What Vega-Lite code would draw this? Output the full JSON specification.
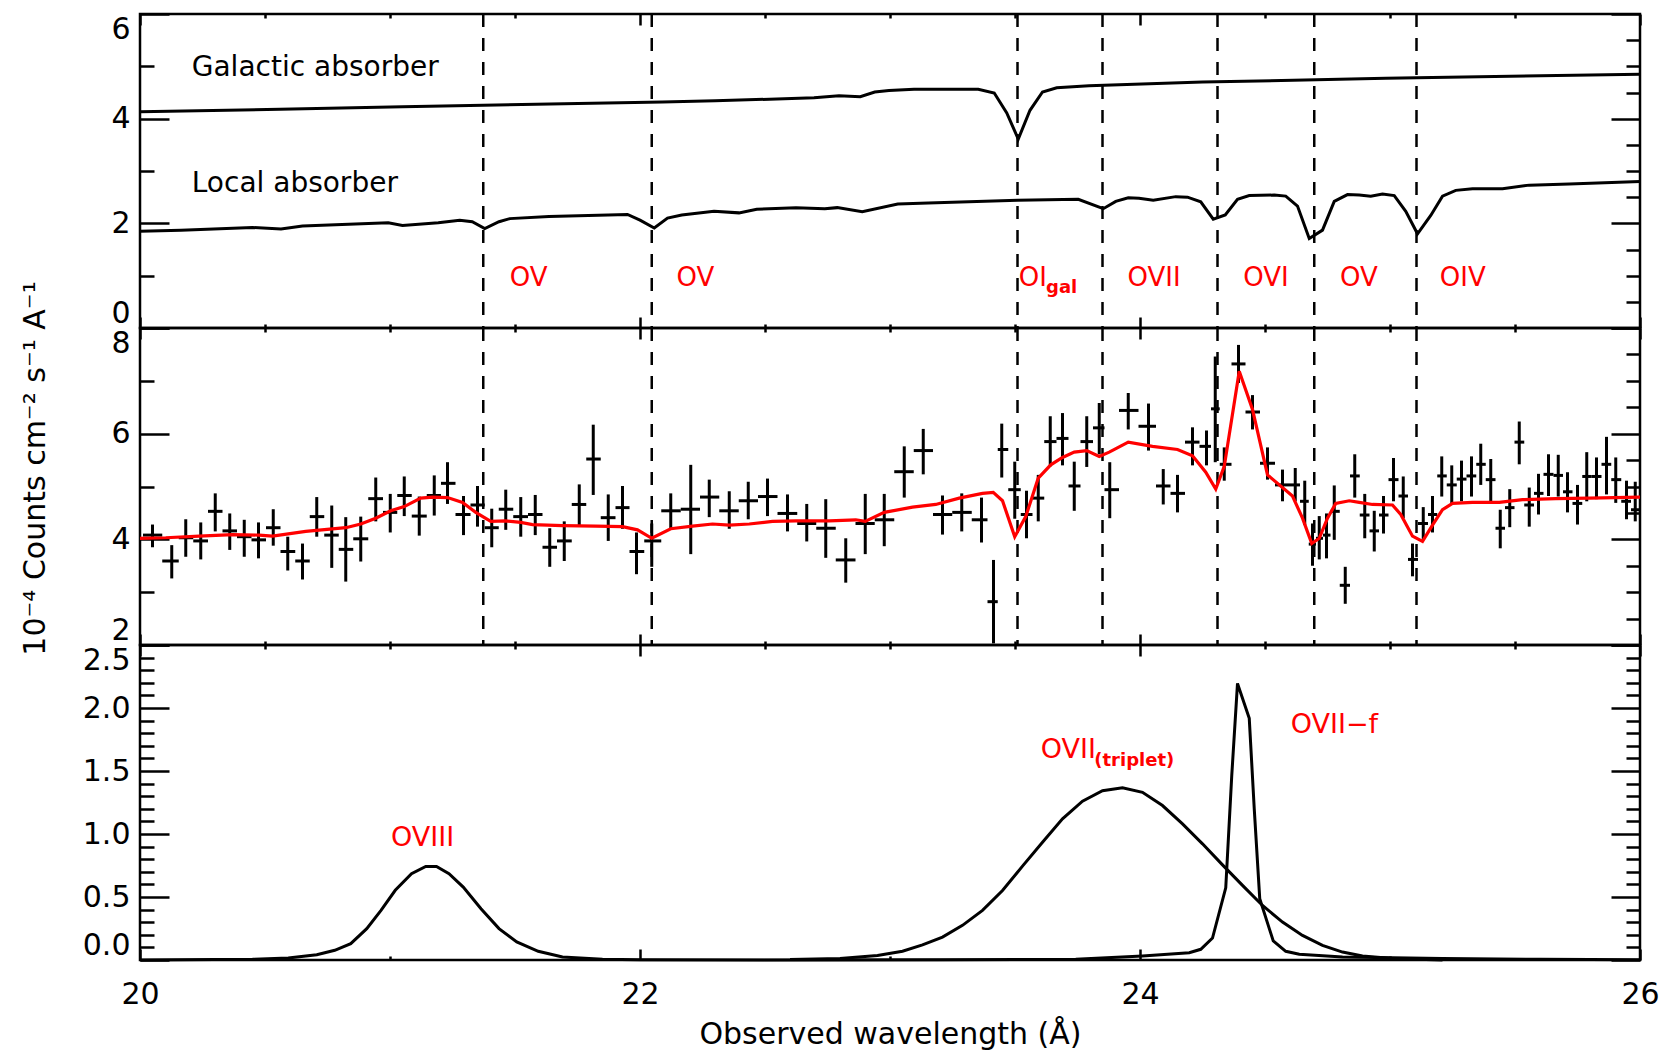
{
 "$schema": "https://vega.github.io/schema/vega-lite/v6.json",
 "background": "white",
 "padding": {"left": 18, "top": 11, "right": 5, "bottom": 5},
 "spacing": 0,
 "bounds": "flush",
 "config": {
  "view": {"stroke": "black", "strokeWidth": 2.5},
  "font": "DejaVu Sans",
  "axis": {"grid": false, "domain": false, "labelFont": "DejaVu Sans", "labelFontSize": 30, "labelColor": "black", "tickColor": "black", "tickWidth": 2.5, "titleFont": "DejaVu Sans", "titleFontSize": 30, "titleFontWeight": "normal", "titleColor": "black", "labelOverlap": false, "labelBound": false},
  "text": {"font": "DejaVu Sans"}
 },
 "datasets": {
  "dashes": [{"lam": 21.373}, {"lam": 22.047}, {"lam": 23.51}, {"lam": 23.85}, {"lam": 24.31}, {"lam": 24.697}, {"lam": 25.106}],
  "absorbers": [
   {"s": "gal", "lam": 20.0, "v": 4.13}, {"s": "gal", "lam": 20.56, "v": 4.18}, {"s": "gal", "lam": 21.05, "v": 4.23}, {"s": "gal", "lam": 21.64, "v": 4.28}, {"s": "gal", "lam": 22.09, "v": 4.32}, {"s": "gal", "lam": 22.3, "v": 4.34}, {"s": "gal", "lam": 22.696, "v": 4.40}, {"s": "gal", "lam": 22.796, "v": 4.44}, {"s": "gal", "lam": 22.881, "v": 4.42}, {"s": "gal", "lam": 22.939, "v": 4.51}, {"s": "gal", "lam": 22.996, "v": 4.54}, {"s": "gal", "lam": 23.096, "v": 4.56}, {"s": "gal", "lam": 23.353, "v": 4.56}, {"s": "gal", "lam": 23.417, "v": 4.49}, {"s": "gal", "lam": 23.467, "v": 4.11}, {"s": "gal", "lam": 23.513, "v": 3.61}, {"s": "gal", "lam": 23.56, "v": 4.16}, {"s": "gal", "lam": 23.61, "v": 4.51}, {"s": "gal", "lam": 23.667, "v": 4.59}, {"s": "gal", "lam": 23.796, "v": 4.63}, {"s": "gal", "lam": 24.25, "v": 4.70}, {"s": "gal", "lam": 24.983, "v": 4.77}, {"s": "gal", "lam": 26.0, "v": 4.85},
   {"s": "loc", "lam": 20.0, "v": 1.85}, {"s": "loc", "lam": 20.164, "v": 1.87}, {"s": "loc", "lam": 20.45, "v": 1.92}, {"s": "loc", "lam": 20.564, "v": 1.89}, {"s": "loc", "lam": 20.65, "v": 1.95}, {"s": "loc", "lam": 20.993, "v": 2.01}, {"s": "loc", "lam": 21.05, "v": 1.96}, {"s": "loc", "lam": 21.193, "v": 2.01}, {"s": "loc", "lam": 21.279, "v": 2.06}, {"s": "loc", "lam": 21.329, "v": 2.03}, {"s": "loc", "lam": 21.379, "v": 1.90}, {"s": "loc", "lam": 21.436, "v": 2.03}, {"s": "loc", "lam": 21.479, "v": 2.09}, {"s": "loc", "lam": 21.636, "v": 2.13}, {"s": "loc", "lam": 21.95, "v": 2.17}, {"s": "loc", "lam": 22.0, "v": 2.06}, {"s": "loc", "lam": 22.057, "v": 1.91}, {"s": "loc", "lam": 22.11, "v": 2.10}, {"s": "loc", "lam": 22.167, "v": 2.16}, {"s": "loc", "lam": 22.296, "v": 2.23}, {"s": "loc", "lam": 22.396, "v": 2.20}, {"s": "loc", "lam": 22.467, "v": 2.27}, {"s": "loc", "lam": 22.624, "v": 2.30}, {"s": "loc", "lam": 22.739, "v": 2.28}, {"s": "loc", "lam": 22.789, "v": 2.30}, {"s": "loc", "lam": 22.889, "v": 2.22}, {"s": "loc", "lam": 23.031, "v": 2.37}, {"s": "loc", "lam": 23.153, "v": 2.39}, {"s": "loc", "lam": 23.51, "v": 2.44}, {"s": "loc", "lam": 23.753, "v": 2.46}, {"s": "loc", "lam": 23.853, "v": 2.28}, {"s": "loc", "lam": 23.903, "v": 2.42}, {"s": "loc", "lam": 23.953, "v": 2.49}, {"s": "loc", "lam": 23.996, "v": 2.48}, {"s": "loc", "lam": 24.053, "v": 2.44}, {"s": "loc", "lam": 24.143, "v": 2.51}, {"s": "loc", "lam": 24.19, "v": 2.50}, {"s": "loc", "lam": 24.243, "v": 2.41}, {"s": "loc", "lam": 24.293, "v": 2.08}, {"s": "loc", "lam": 24.341, "v": 2.16}, {"s": "loc", "lam": 24.39, "v": 2.46}, {"s": "loc", "lam": 24.437, "v": 2.53}, {"s": "loc", "lam": 24.537, "v": 2.54}, {"s": "loc", "lam": 24.583, "v": 2.52}, {"s": "loc", "lam": 24.63, "v": 2.33}, {"s": "loc", "lam": 24.677, "v": 1.71}, {"s": "loc", "lam": 24.73, "v": 1.87}, {"s": "loc", "lam": 24.777, "v": 2.42}, {"s": "loc", "lam": 24.83, "v": 2.55}, {"s": "loc", "lam": 24.877, "v": 2.54}, {"s": "loc", "lam": 24.923, "v": 2.52}, {"s": "loc", "lam": 24.97, "v": 2.56}, {"s": "loc", "lam": 25.017, "v": 2.53}, {"s": "loc", "lam": 25.063, "v": 2.23}, {"s": "loc", "lam": 25.11, "v": 1.80}, {"s": "loc", "lam": 25.163, "v": 2.15}, {"s": "loc", "lam": 25.21, "v": 2.52}, {"s": "loc", "lam": 25.263, "v": 2.63}, {"s": "loc", "lam": 25.33, "v": 2.66}, {"s": "loc", "lam": 25.45, "v": 2.66}, {"s": "loc", "lam": 25.557, "v": 2.73}, {"s": "loc", "lam": 25.717, "v": 2.75}, {"s": "loc", "lam": 26.0, "v": 2.80}
  ],
  "topblack": [{"lam": 20.207, "v": 4.97, "txt": "Galactic absorber"}, {"lam": 20.207, "v": 2.75, "txt": "Local absorber"}],
  "topred": [{"lam": 21.479, "v": 0.96, "txt": "OV"}, {"lam": 22.146, "v": 0.96, "txt": "OV"}, {"lam": 23.515, "v": 0.96, "txt": "OI"}, {"lam": 23.95, "v": 0.96, "txt": "OVII"}, {"lam": 24.413, "v": 0.96, "txt": "OVI"}, {"lam": 24.80, "v": 0.96, "txt": "OV"}, {"lam": 25.199, "v": 0.96, "txt": "OIV"}],
  "topsub": [{"lam": 23.624, "v": 0.77, "txt": "gal"}],
  "crosses": [
   {"lam": 20.050, "lo": 20.012, "hi": 20.089, "f": 4.08, "flo": 3.85, "fhi": 4.28},
   {"lam": 20.127, "lo": 20.089, "hi": 20.155, "f": 3.59, "flo": 3.26, "fhi": 3.89},
   {"lam": 20.183, "lo": 20.155, "hi": 20.213, "f": 4.03, "flo": 3.67, "fhi": 4.38},
   {"lam": 20.243, "lo": 20.213, "hi": 20.272, "f": 3.97, "flo": 3.62, "fhi": 4.32},
   {"lam": 20.301, "lo": 20.272, "hi": 20.330, "f": 4.53, "flo": 4.15, "fhi": 4.87},
   {"lam": 20.359, "lo": 20.330, "hi": 20.388, "f": 4.16, "flo": 3.80, "fhi": 4.49},
   {"lam": 20.417, "lo": 20.388, "hi": 20.446, "f": 4.05, "flo": 3.67, "fhi": 4.37},
   {"lam": 20.474, "lo": 20.446, "hi": 20.504, "f": 3.99, "flo": 3.64, "fhi": 4.32},
   {"lam": 20.533, "lo": 20.504, "hi": 20.562, "f": 4.22, "flo": 3.88, "fhi": 4.57},
   {"lam": 20.591, "lo": 20.562, "hi": 20.621, "f": 3.77, "flo": 3.41, "fhi": 4.05},
   {"lam": 20.650, "lo": 20.621, "hi": 20.679, "f": 3.59, "flo": 3.24, "fhi": 3.92},
   {"lam": 20.707, "lo": 20.679, "hi": 20.737, "f": 4.43, "flo": 4.05, "fhi": 4.80},
   {"lam": 20.767, "lo": 20.737, "hi": 20.795, "f": 4.08, "flo": 3.46, "fhi": 4.64},
   {"lam": 20.823, "lo": 20.795, "hi": 20.853, "f": 3.81, "flo": 3.20, "fhi": 4.42},
   {"lam": 20.883, "lo": 20.853, "hi": 20.913, "f": 4.01, "flo": 3.58, "fhi": 4.43},
   {"lam": 20.943, "lo": 20.913, "hi": 20.972, "f": 4.77, "flo": 4.34, "fhi": 5.17},
   {"lam": 21.001, "lo": 20.972, "hi": 21.029, "f": 4.51, "flo": 4.13, "fhi": 4.86},
   {"lam": 21.057, "lo": 21.029, "hi": 21.087, "f": 4.83, "flo": 4.44, "fhi": 5.19},
   {"lam": 21.117, "lo": 21.087, "hi": 21.147, "f": 4.44, "flo": 4.07, "fhi": 4.81},
   {"lam": 21.177, "lo": 21.147, "hi": 21.204, "f": 4.83, "flo": 4.45, "fhi": 5.21},
   {"lam": 21.230, "lo": 21.204, "hi": 21.262, "f": 5.06, "flo": 4.67, "fhi": 5.46},
   {"lam": 21.294, "lo": 21.262, "hi": 21.322, "f": 4.47, "flo": 4.08, "fhi": 4.82},
   {"lam": 21.350, "lo": 21.322, "hi": 21.379, "f": 4.65, "flo": 4.24, "fhi": 5.01},
   {"lam": 21.407, "lo": 21.379, "hi": 21.435, "f": 4.22, "flo": 3.85, "fhi": 4.58},
   {"lam": 21.463, "lo": 21.435, "hi": 21.493, "f": 4.57, "flo": 4.18, "fhi": 4.94},
   {"lam": 21.523, "lo": 21.493, "hi": 21.552, "f": 4.43, "flo": 4.05, "fhi": 4.80},
   {"lam": 21.581, "lo": 21.552, "hi": 21.610, "f": 4.47, "flo": 4.08, "fhi": 4.84},
   {"lam": 21.639, "lo": 21.610, "hi": 21.668, "f": 3.85, "flo": 3.48, "fhi": 4.21},
   {"lam": 21.697, "lo": 21.668, "hi": 21.727, "f": 3.97, "flo": 3.59, "fhi": 4.34},
   {"lam": 21.757, "lo": 21.727, "hi": 21.785, "f": 4.66, "flo": 4.26, "fhi": 5.04},
   {"lam": 21.813, "lo": 21.785, "hi": 21.843, "f": 5.52, "flo": 4.84, "fhi": 6.17},
   {"lam": 21.873, "lo": 21.843, "hi": 21.902, "f": 4.41, "flo": 3.97, "fhi": 4.85},
   {"lam": 21.930, "lo": 21.902, "hi": 21.958, "f": 4.60, "flo": 4.20, "fhi": 5.01},
   {"lam": 21.986, "lo": 21.958, "hi": 22.017, "f": 3.77, "flo": 3.34, "fhi": 4.13},
   {"lam": 22.047, "lo": 22.017, "hi": 22.085, "f": 3.97, "flo": 3.48, "fhi": 4.30},
   {"lam": 22.123, "lo": 22.085, "hi": 22.163, "f": 4.54, "flo": 4.20, "fhi": 4.87},
   {"lam": 22.203, "lo": 22.163, "hi": 22.240, "f": 4.57, "flo": 3.72, "fhi": 5.41},
   {"lam": 22.277, "lo": 22.240, "hi": 22.317, "f": 4.80, "flo": 4.42, "fhi": 5.13},
   {"lam": 22.357, "lo": 22.317, "hi": 22.395, "f": 4.54, "flo": 4.20, "fhi": 4.91},
   {"lam": 22.433, "lo": 22.395, "hi": 22.472, "f": 4.73, "flo": 4.38, "fhi": 5.09},
   {"lam": 22.510, "lo": 22.472, "hi": 22.550, "f": 4.81, "flo": 4.44, "fhi": 5.15},
   {"lam": 22.590, "lo": 22.550, "hi": 22.629, "f": 4.49, "flo": 4.15, "fhi": 4.85},
   {"lam": 22.667, "lo": 22.629, "hi": 22.705, "f": 4.30, "flo": 3.96, "fhi": 4.67},
   {"lam": 22.743, "lo": 22.705, "hi": 22.783, "f": 4.21, "flo": 3.65, "fhi": 4.76},
   {"lam": 22.823, "lo": 22.783, "hi": 22.862, "f": 3.61, "flo": 3.18, "fhi": 4.02},
   {"lam": 22.901, "lo": 22.862, "hi": 22.939, "f": 4.30, "flo": 3.72, "fhi": 4.86},
   {"lam": 22.977, "lo": 22.939, "hi": 23.017, "f": 4.37, "flo": 3.87, "fhi": 4.86},
   {"lam": 23.057, "lo": 23.017, "hi": 23.095, "f": 5.28, "flo": 4.79, "fhi": 5.76},
   {"lam": 23.133, "lo": 23.095, "hi": 23.172, "f": 5.68, "flo": 5.23, "fhi": 6.09},
   {"lam": 23.210, "lo": 23.172, "hi": 23.249, "f": 4.47, "flo": 4.09, "fhi": 4.83},
   {"lam": 23.287, "lo": 23.249, "hi": 23.327, "f": 4.51, "flo": 4.15, "fhi": 4.87},
   {"lam": 23.366, "lo": 23.327, "hi": 23.390, "f": 4.37, "flo": 3.94, "fhi": 4.79},
   {"lam": 23.414, "lo": 23.390, "hi": 23.431, "f": 2.82, "flo": 2.03, "fhi": 3.61},
   {"lam": 23.447, "lo": 23.431, "hi": 23.473, "f": 5.70, "flo": 5.17, "fhi": 6.19},
   {"lam": 23.499, "lo": 23.473, "hi": 23.523, "f": 4.94, "flo": 4.39, "fhi": 5.47},
   {"lam": 23.546, "lo": 23.523, "hi": 23.570, "f": 4.47, "flo": 4.02, "fhi": 4.92},
   {"lam": 23.593, "lo": 23.570, "hi": 23.617, "f": 4.78, "flo": 4.34, "fhi": 5.22},
   {"lam": 23.641, "lo": 23.617, "hi": 23.666, "f": 5.85, "flo": 5.38, "fhi": 6.33},
   {"lam": 23.690, "lo": 23.666, "hi": 23.714, "f": 5.91, "flo": 5.40, "fhi": 6.39},
   {"lam": 23.737, "lo": 23.714, "hi": 23.762, "f": 5.01, "flo": 4.54, "fhi": 5.47},
   {"lam": 23.787, "lo": 23.762, "hi": 23.812, "f": 5.85, "flo": 5.37, "fhi": 6.33},
   {"lam": 23.837, "lo": 23.812, "hi": 23.858, "f": 6.11, "flo": 5.61, "fhi": 6.58},
   {"lam": 23.879, "lo": 23.858, "hi": 23.916, "f": 4.94, "flo": 4.40, "fhi": 5.46},
   {"lam": 23.953, "lo": 23.916, "hi": 23.994, "f": 6.44, "flo": 6.08, "fhi": 6.77},
   {"lam": 24.034, "lo": 23.994, "hi": 24.064, "f": 6.14, "flo": 5.68, "fhi": 6.57},
   {"lam": 24.093, "lo": 24.064, "hi": 24.122, "f": 5.01, "flo": 4.66, "fhi": 5.33},
   {"lam": 24.150, "lo": 24.122, "hi": 24.180, "f": 4.87, "flo": 4.51, "fhi": 5.22},
   {"lam": 24.210, "lo": 24.180, "hi": 24.238, "f": 5.84, "flo": 5.40, "fhi": 6.12},
   {"lam": 24.266, "lo": 24.238, "hi": 24.284, "f": 5.76, "flo": 5.40, "fhi": 6.06},
   {"lam": 24.301, "lo": 24.284, "hi": 24.319, "f": 6.47, "flo": 5.46, "fhi": 7.46},
   {"lam": 24.337, "lo": 24.319, "hi": 24.366, "f": 5.42, "flo": 5.11, "fhi": 5.74},
   {"lam": 24.394, "lo": 24.366, "hi": 24.422, "f": 7.32, "flo": 6.96, "fhi": 7.68},
   {"lam": 24.450, "lo": 24.422, "hi": 24.480, "f": 6.41, "flo": 6.08, "fhi": 6.73},
   {"lam": 24.510, "lo": 24.480, "hi": 24.540, "f": 5.44, "flo": 5.13, "fhi": 5.74},
   {"lam": 24.570, "lo": 24.540, "hi": 24.596, "f": 5.03, "flo": 4.72, "fhi": 5.32},
   {"lam": 24.621, "lo": 24.596, "hi": 24.640, "f": 5.03, "flo": 4.72, "fhi": 5.35},
   {"lam": 24.659, "lo": 24.640, "hi": 24.675, "f": 4.72, "flo": 4.27, "fhi": 5.11},
   {"lam": 24.690, "lo": 24.675, "hi": 24.704, "f": 3.91, "flo": 3.50, "fhi": 4.30},
   {"lam": 24.717, "lo": 24.704, "hi": 24.732, "f": 4.02, "flo": 3.62, "fhi": 4.44},
   {"lam": 24.746, "lo": 24.732, "hi": 24.762, "f": 4.08, "flo": 3.64, "fhi": 4.49},
   {"lam": 24.777, "lo": 24.762, "hi": 24.799, "f": 4.53, "flo": 3.99, "fhi": 5.02},
   {"lam": 24.821, "lo": 24.799, "hi": 24.840, "f": 3.13, "flo": 2.78, "fhi": 3.48},
   {"lam": 24.859, "lo": 24.840, "hi": 24.879, "f": 5.20, "flo": 4.79, "fhi": 5.61},
   {"lam": 24.899, "lo": 24.879, "hi": 24.918, "f": 4.46, "flo": 4.02, "fhi": 4.86},
   {"lam": 24.937, "lo": 24.918, "hi": 24.956, "f": 4.16, "flo": 3.77, "fhi": 4.54},
   {"lam": 24.974, "lo": 24.956, "hi": 24.994, "f": 4.46, "flo": 4.11, "fhi": 4.82},
   {"lam": 25.014, "lo": 24.994, "hi": 25.034, "f": 5.13, "flo": 4.72, "fhi": 5.54},
   {"lam": 25.053, "lo": 25.034, "hi": 25.072, "f": 4.82, "flo": 4.40, "fhi": 5.19},
   {"lam": 25.090, "lo": 25.072, "hi": 25.112, "f": 3.62, "flo": 3.30, "fhi": 3.92},
   {"lam": 25.133, "lo": 25.112, "hi": 25.152, "f": 4.30, "flo": 3.99, "fhi": 4.61},
   {"lam": 25.170, "lo": 25.152, "hi": 25.189, "f": 4.47, "flo": 4.13, "fhi": 4.82},
   {"lam": 25.207, "lo": 25.189, "hi": 25.227, "f": 5.20, "flo": 4.81, "fhi": 5.57},
   {"lam": 25.247, "lo": 25.227, "hi": 25.267, "f": 5.03, "flo": 4.66, "fhi": 5.40},
   {"lam": 25.286, "lo": 25.267, "hi": 25.306, "f": 5.14, "flo": 4.72, "fhi": 5.49},
   {"lam": 25.326, "lo": 25.306, "hi": 25.345, "f": 5.20, "flo": 4.81, "fhi": 5.57},
   {"lam": 25.363, "lo": 25.345, "hi": 25.383, "f": 5.42, "flo": 5.03, "fhi": 5.81},
   {"lam": 25.403, "lo": 25.383, "hi": 25.422, "f": 5.13, "flo": 4.72, "fhi": 5.52},
   {"lam": 25.441, "lo": 25.422, "hi": 25.460, "f": 4.21, "flo": 3.83, "fhi": 4.56},
   {"lam": 25.479, "lo": 25.460, "hi": 25.498, "f": 4.60, "flo": 4.23, "fhi": 4.95},
   {"lam": 25.517, "lo": 25.498, "hi": 25.537, "f": 5.84, "flo": 5.42, "fhi": 6.23},
   {"lam": 25.557, "lo": 25.537, "hi": 25.576, "f": 4.65, "flo": 4.24, "fhi": 4.98},
   {"lam": 25.594, "lo": 25.576, "hi": 25.614, "f": 4.87, "flo": 4.47, "fhi": 5.24},
   {"lam": 25.634, "lo": 25.614, "hi": 25.654, "f": 5.23, "flo": 4.82, "fhi": 5.61},
   {"lam": 25.673, "lo": 25.654, "hi": 25.692, "f": 5.21, "flo": 4.81, "fhi": 5.60},
   {"lam": 25.710, "lo": 25.692, "hi": 25.730, "f": 4.90, "flo": 4.51, "fhi": 5.27},
   {"lam": 25.750, "lo": 25.730, "hi": 25.769, "f": 4.68, "flo": 4.28, "fhi": 5.03},
   {"lam": 25.787, "lo": 25.769, "hi": 25.807, "f": 5.19, "flo": 4.72, "fhi": 5.65},
   {"lam": 25.826, "lo": 25.807, "hi": 25.846, "f": 5.19, "flo": 4.76, "fhi": 5.55},
   {"lam": 25.866, "lo": 25.846, "hi": 25.885, "f": 5.42, "flo": 4.85, "fhi": 5.94},
   {"lam": 25.903, "lo": 25.885, "hi": 25.925, "f": 5.13, "flo": 4.69, "fhi": 5.55},
   {"lam": 25.946, "lo": 25.925, "hi": 25.964, "f": 4.72, "flo": 4.38, "fhi": 5.11},
   {"lam": 25.981, "lo": 25.964, "hi": 25.998, "f": 4.56, "flo": 4.34, "fhi": 5.09}
  ],
  "model": [
   {"lam": 20.0, "m": 4.02}, {"lam": 20.103, "m": 4.03}, {"lam": 20.237, "m": 4.06}, {"lam": 20.37, "m": 4.09}, {"lam": 20.477, "m": 4.08}, {"lam": 20.53, "m": 4.06}, {"lam": 20.663, "m": 4.15}, {"lam": 20.823, "m": 4.22}, {"lam": 20.883, "m": 4.29}, {"lam": 20.943, "m": 4.40}, {"lam": 21.003, "m": 4.54}, {"lam": 21.057, "m": 4.62}, {"lam": 21.123, "m": 4.78}, {"lam": 21.17, "m": 4.80}, {"lam": 21.23, "m": 4.79}, {"lam": 21.29, "m": 4.70}, {"lam": 21.343, "m": 4.51}, {"lam": 21.403, "m": 4.34}, {"lam": 21.463, "m": 4.35}, {"lam": 21.523, "m": 4.32}, {"lam": 21.57, "m": 4.28}, {"lam": 21.69, "m": 4.26}, {"lam": 21.823, "m": 4.25}, {"lam": 21.93, "m": 4.24}, {"lam": 21.99, "m": 4.18}, {"lam": 22.047, "m": 4.02}, {"lam": 22.123, "m": 4.20}, {"lam": 22.21, "m": 4.25}, {"lam": 22.29, "m": 4.29}, {"lam": 22.357, "m": 4.27}, {"lam": 22.437, "m": 4.29}, {"lam": 22.53, "m": 4.34}, {"lam": 22.623, "m": 4.35}, {"lam": 22.757, "m": 4.35}, {"lam": 22.863, "m": 4.37}, {"lam": 22.901, "m": 4.34}, {"lam": 22.977, "m": 4.51}, {"lam": 23.09, "m": 4.61}, {"lam": 23.183, "m": 4.66}, {"lam": 23.277, "m": 4.78}, {"lam": 23.37, "m": 4.87}, {"lam": 23.413, "m": 4.89}, {"lam": 23.45, "m": 4.73}, {"lam": 23.499, "m": 4.05}, {"lam": 23.543, "m": 4.43}, {"lam": 23.593, "m": 5.16}, {"lam": 23.643, "m": 5.41}, {"lam": 23.69, "m": 5.55}, {"lam": 23.737, "m": 5.65}, {"lam": 23.787, "m": 5.68}, {"lam": 23.837, "m": 5.57}, {"lam": 23.877, "m": 5.65}, {"lam": 23.953, "m": 5.84}, {"lam": 24.05, "m": 5.76}, {"lam": 24.15, "m": 5.70}, {"lam": 24.21, "m": 5.58}, {"lam": 24.263, "m": 5.27}, {"lam": 24.303, "m": 4.95}, {"lam": 24.337, "m": 5.38}, {"lam": 24.397, "m": 7.18}, {"lam": 24.45, "m": 6.46}, {"lam": 24.51, "m": 5.22}, {"lam": 24.61, "m": 4.82}, {"lam": 24.65, "m": 4.40}, {"lam": 24.687, "m": 3.92}, {"lam": 24.717, "m": 4.02}, {"lam": 24.75, "m": 4.40}, {"lam": 24.783, "m": 4.68}, {"lam": 24.837, "m": 4.73}, {"lam": 24.877, "m": 4.70}, {"lam": 24.93, "m": 4.66}, {"lam": 25.01, "m": 4.65}, {"lam": 25.043, "m": 4.47}, {"lam": 25.09, "m": 4.06}, {"lam": 25.13, "m": 3.96}, {"lam": 25.17, "m": 4.27}, {"lam": 25.21, "m": 4.56}, {"lam": 25.25, "m": 4.68}, {"lam": 25.33, "m": 4.70}, {"lam": 25.437, "m": 4.70}, {"lam": 25.53, "m": 4.75}, {"lam": 25.663, "m": 4.77}, {"lam": 25.797, "m": 4.78}, {"lam": 26.0, "m": 4.80}
  ],
  "lines": [
   {"s": "OVIII", "lam": 20.0, "v": 0.0}, {"s": "OVIII", "lam": 20.45, "v": 0.005}, {"s": "OVIII", "lam": 20.593, "v": 0.016}, {"s": "OVIII", "lam": 20.707, "v": 0.042}, {"s": "OVIII", "lam": 20.779, "v": 0.077}, {"s": "OVIII", "lam": 20.843, "v": 0.13}, {"s": "OVIII", "lam": 20.907, "v": 0.249}, {"s": "OVIII", "lam": 20.964, "v": 0.394}, {"s": "OVIII", "lam": 21.021, "v": 0.553}, {"s": "OVIII", "lam": 21.086, "v": 0.685}, {"s": "OVIII", "lam": 21.143, "v": 0.743}, {"s": "OVIII", "lam": 21.186, "v": 0.743}, {"s": "OVIII", "lam": 21.236, "v": 0.685}, {"s": "OVIII", "lam": 21.293, "v": 0.579}, {"s": "OVIII", "lam": 21.364, "v": 0.407}, {"s": "OVIII", "lam": 21.436, "v": 0.249}, {"s": "OVIII", "lam": 21.507, "v": 0.143}, {"s": "OVIII", "lam": 21.593, "v": 0.069}, {"s": "OVIII", "lam": 21.69, "v": 0.024}, {"s": "OVIII", "lam": 21.85, "v": 0.006}, {"s": "OVIII", "lam": 22.0, "v": 0.002}, {"s": "OVIII", "lam": 22.5, "v": 0.0},
   {"s": "trip", "lam": 22.6, "v": 0.003}, {"s": "trip", "lam": 22.8, "v": 0.012}, {"s": "trip", "lam": 22.95, "v": 0.035}, {"s": "trip", "lam": 23.05, "v": 0.07}, {"s": "trip", "lam": 23.13, "v": 0.12}, {"s": "trip", "lam": 23.21, "v": 0.182}, {"s": "trip", "lam": 23.29, "v": 0.275}, {"s": "trip", "lam": 23.37, "v": 0.394}, {"s": "trip", "lam": 23.45, "v": 0.552}, {"s": "trip", "lam": 23.53, "v": 0.745}, {"s": "trip", "lam": 23.61, "v": 0.935}, {"s": "trip", "lam": 23.69, "v": 1.12}, {"s": "trip", "lam": 23.77, "v": 1.26}, {"s": "trip", "lam": 23.85, "v": 1.344}, {"s": "trip", "lam": 23.93, "v": 1.366}, {"s": "trip", "lam": 24.01, "v": 1.331}, {"s": "trip", "lam": 24.09, "v": 1.226}, {"s": "trip", "lam": 24.17, "v": 1.08}, {"s": "trip", "lam": 24.25, "v": 0.922}, {"s": "trip", "lam": 24.33, "v": 0.755}, {"s": "trip", "lam": 24.41, "v": 0.592}, {"s": "trip", "lam": 24.49, "v": 0.433}, {"s": "trip", "lam": 24.57, "v": 0.301}, {"s": "trip", "lam": 24.65, "v": 0.195}, {"s": "trip", "lam": 24.73, "v": 0.116}, {"s": "trip", "lam": 24.81, "v": 0.063}, {"s": "trip", "lam": 24.89, "v": 0.032}, {"s": "trip", "lam": 25.01, "v": 0.011}, {"s": "trip", "lam": 25.21, "v": 0.0},
   {"s": "f", "lam": 22.5, "v": 0.0}, {"s": "f", "lam": 23.2, "v": 0.002}, {"s": "f", "lam": 23.743, "v": 0.005}, {"s": "f", "lam": 24.01, "v": 0.032}, {"s": "f", "lam": 24.197, "v": 0.058}, {"s": "f", "lam": 24.243, "v": 0.085}, {"s": "f", "lam": 24.29, "v": 0.174}, {"s": "f", "lam": 24.343, "v": 0.573}, {"s": "f", "lam": 24.367, "v": 1.463}, {"s": "f", "lam": 24.39, "v": 2.195}, {"s": "f", "lam": 24.437, "v": 1.918}, {"s": "f", "lam": 24.457, "v": 1.199}, {"s": "f", "lam": 24.479, "v": 0.486}, {"s": "f", "lam": 24.533, "v": 0.151}, {"s": "f", "lam": 24.583, "v": 0.069}, {"s": "f", "lam": 24.637, "v": 0.045}, {"s": "f", "lam": 24.81, "v": 0.024}, {"s": "f", "lam": 25.21, "v": 0.011}, {"s": "f", "lam": 25.6, "v": 0.005}, {"s": "f", "lam": 26.0, "v": 0.002}
  ],
  "botred": [{"lam": 21.004, "v": 0.967, "txt": "OVIII"}, {"lam": 23.603, "v": 1.67, "txt": "OVII"}, {"lam": 24.603, "v": 1.865, "txt": "OVII−f"}],
  "botsub": [{"lam": 23.817, "v": 1.58, "txt": "(triplet)"}]
 },
 "vconcat": [
  {
   "width": 1500, "height": 314,
   "resolve": {"axis": {"x": "independent", "y": "independent"}},
   "layer": [
    {"data": {"name": "dashes"}, "mark": {"type": "rule", "color": "black", "strokeWidth": 2.5, "strokeDash": [13, 11]},
     "encoding": {"x": {"field": "lam", "type": "quantitative", "scale": {"domain": [20, 26], "nice": false, "zero": false}, "axis": null}}},
    {"data": {"name": "absorbers"}, "mark": {"type": "line", "color": "black", "strokeWidth": 3},
     "encoding": {
      "x": {"field": "lam", "type": "quantitative", "scale": {"domain": [20, 26], "nice": false, "zero": false},
            "axis": {"orient": "bottom", "values": [20, 20.5, 21, 21.5, 22, 22.5, 23, 23.5, 24, 24.5, 25, 25.5, 26], "labels": false, "title": null, "minExtent": 0, "maxExtent": 0, "tickSize": {"condition": {"test": "datum.value % 2 == 0", "value": -11}, "value": -4}}},
      "y": {"field": "v", "type": "quantitative", "scale": {"domain": [0, 6], "nice": false, "zero": false},
            "axis": {"orient": "left", "values": [0, 0.5, 1, 1.5, 2, 2.5, 3, 3.5, 4, 4.5, 5, 5.5, 6], "format": "d", "labelExpr": "datum.value % 2 == 0 ? datum.label : ''", "labelFlush": true, "labelPadding": 39, "title": null, "tickSize": {"condition": {"test": "datum.value % 2 == 0", "value": -29}, "value": -14}}},
      "detail": {"field": "s"}}},
    {"data": {"name": "topblack"}, "mark": {"type": "text", "align": "left", "baseline": "middle", "fontSize": 28, "color": "black"},
     "encoding": {
      "x": {"field": "lam", "type": "quantitative", "scale": {"domain": [20, 26], "nice": false, "zero": false},
            "axis": {"orient": "top", "values": [20, 20.5, 21, 21.5, 22, 22.5, 23, 23.5, 24, 24.5, 25, 25.5, 26], "labels": false, "title": null, "minExtent": 0, "maxExtent": 0, "tickSize": {"condition": {"test": "datum.value % 2 == 0", "value": -11}, "value": -4}}},
      "y": {"field": "v", "type": "quantitative", "scale": {"domain": [0, 6], "nice": false, "zero": false},
            "axis": {"orient": "right", "values": [0, 0.5, 1, 1.5, 2, 2.5, 3, 3.5, 4, 4.5, 5, 5.5, 6], "labels": false, "title": null, "minExtent": 0, "maxExtent": 0, "tickSize": {"condition": {"test": "datum.value % 2 == 0", "value": -29}, "value": -14}}},
      "text": {"field": "txt"}}},
    {"data": {"name": "topred"}, "mark": {"type": "text", "align": "left", "baseline": "middle", "fontSize": 26, "color": "#ff0000"},
     "encoding": {
      "x": {"field": "lam", "type": "quantitative", "scale": {"domain": [20, 26], "nice": false, "zero": false}, "axis": null},
      "y": {"field": "v", "type": "quantitative", "scale": {"domain": [0, 6], "nice": false, "zero": false}, "axis": null},
      "text": {"field": "txt"}}},
    {"data": {"name": "topsub"}, "mark": {"type": "text", "align": "left", "baseline": "middle", "fontSize": 18, "fontWeight": "bold", "color": "#ff0000"},
     "encoding": {
      "x": {"field": "lam", "type": "quantitative", "scale": {"domain": [20, 26], "nice": false, "zero": false}, "axis": null},
      "y": {"field": "v", "type": "quantitative", "scale": {"domain": [0, 6], "nice": false, "zero": false}, "axis": null},
      "text": {"field": "txt"}}}
   ]
  },
  {
   "width": 1500, "height": 317,
   "resolve": {"axis": {"x": "independent", "y": "independent"}},
   "layer": [
    {"data": {"name": "dashes"}, "mark": {"type": "rule", "color": "black", "strokeWidth": 2.5, "strokeDash": [13, 11]},
     "encoding": {"x": {"field": "lam", "type": "quantitative", "scale": {"domain": [20, 26], "nice": false, "zero": false}, "axis": null}}},
    {"data": {"name": "crosses"}, "mark": {"type": "rule", "color": "black", "strokeWidth": 3, "clip": true},
     "encoding": {
      "x": {"field": "lam", "type": "quantitative", "scale": {"domain": [20, 26], "nice": false, "zero": false},
            "axis": {"orient": "bottom", "values": [20, 20.5, 21, 21.5, 22, 22.5, 23, 23.5, 24, 24.5, 25, 25.5, 26], "labels": false, "title": null, "minExtent": 0, "maxExtent": 0, "tickSize": {"condition": {"test": "datum.value % 2 == 0", "value": -11}, "value": -4}}},
      "y": {"field": "flo", "type": "quantitative", "scale": {"domain": [2, 8], "nice": false, "zero": false},
            "axis": {"orient": "left", "values": [2, 2.5, 3, 3.5, 4, 4.5, 5, 5.5, 6, 6.5, 7, 7.5, 8], "format": "d", "labelExpr": "datum.value % 2 == 0 ? datum.label : ''", "labelFlush": true, "labelPadding": 39, "tickSize": {"condition": {"test": "datum.value % 2 == 0", "value": -29}, "value": -14},
                     "title": "10⁻⁴ Counts cm⁻² s⁻¹ A⁻¹", "titleX": -96, "titleY": 140, "titleBaseline": "alphabetic", "titleAngle": -90, "titleAlign": "center"}},
      "y2": {"field": "fhi"}}},
    {"data": {"name": "crosses"}, "mark": {"type": "rule", "color": "black", "strokeWidth": 3, "clip": true},
     "encoding": {
      "x": {"field": "lo", "type": "quantitative", "scale": {"domain": [20, 26], "nice": false, "zero": false},
            "axis": {"orient": "top", "values": [20, 20.5, 21, 21.5, 22, 22.5, 23, 23.5, 24, 24.5, 25, 25.5, 26], "labels": false, "title": null, "minExtent": 0, "maxExtent": 0, "tickSize": {"condition": {"test": "datum.value % 2 == 0", "value": -11}, "value": -4}}},
      "x2": {"field": "hi"},
      "y": {"field": "f", "type": "quantitative", "scale": {"domain": [2, 8], "nice": false, "zero": false},
            "axis": {"orient": "right", "values": [2, 2.5, 3, 3.5, 4, 4.5, 5, 5.5, 6, 6.5, 7, 7.5, 8], "labels": false, "title": null, "minExtent": 0, "maxExtent": 0, "tickSize": {"condition": {"test": "datum.value % 2 == 0", "value": -29}, "value": -14}}}}},
    {"data": {"name": "model"}, "mark": {"type": "line", "color": "#ff0000", "strokeWidth": 3.2, "clip": true},
     "encoding": {
      "x": {"field": "lam", "type": "quantitative", "scale": {"domain": [20, 26], "nice": false, "zero": false}, "axis": null},
      "y": {"field": "m", "type": "quantitative", "scale": {"domain": [2, 8], "nice": false, "zero": false}, "axis": null}}}
   ]
  },
  {
   "width": 1500, "height": 315,
   "resolve": {"axis": {"x": "independent", "y": "independent"}},
   "layer": [
    {"data": {"name": "lines"}, "mark": {"type": "line", "color": "black", "strokeWidth": 3},
     "encoding": {
      "x": {"field": "lam", "type": "quantitative", "scale": {"domain": [20, 26], "nice": false, "zero": false},
            "axis": {"orient": "bottom", "values": [20, 20.5, 21, 21.5, 22, 22.5, 23, 23.5, 24, 24.5, 25, 25.5, 26], "format": "d", "labelExpr": "datum.value % 2 == 0 ? datum.label : ''", "labelFlush": false, "labelPadding": 30, "tickSize": {"condition": {"test": "datum.value % 2 == 0", "value": -11}, "value": -4}, "title": "Observed wavelength (Å)", "titlePadding": 3}},
      "y": {"field": "v", "type": "quantitative", "scale": {"domain": [0, 2.5], "nice": false, "zero": false},
            "axis": {"orient": "left", "values": [0, 0.1, 0.2, 0.3, 0.4, 0.5, 0.6, 0.7, 0.8, 0.9, 1, 1.1, 1.2, 1.3, 1.4, 1.5, 1.6, 1.7, 1.8, 1.9, 2, 2.1, 2.2, 2.3, 2.4, 2.5], "format": ".1f", "labelExpr": "abs(datum.value*2 - round(datum.value*2)) < 0.001 ? datum.label : ''", "labelFlush": true, "labelPadding": 39, "title": null, "tickSize": {"condition": {"test": "abs(datum.value*2 - round(datum.value*2)) < 0.001", "value": -29}, "value": -14}}},
      "detail": {"field": "s"}}},
    {"data": {"name": "botred"}, "mark": {"type": "text", "align": "left", "baseline": "middle", "fontSize": 27, "color": "#ff0000"},
     "encoding": {
      "x": {"field": "lam", "type": "quantitative", "scale": {"domain": [20, 26], "nice": false, "zero": false},
            "axis": {"orient": "top", "values": [20, 20.5, 21, 21.5, 22, 22.5, 23, 23.5, 24, 24.5, 25, 25.5, 26], "labels": false, "title": null, "minExtent": 0, "maxExtent": 0, "tickSize": {"condition": {"test": "datum.value % 2 == 0", "value": -11}, "value": -4}}},
      "y": {"field": "v", "type": "quantitative", "scale": {"domain": [0, 2.5], "nice": false, "zero": false},
            "axis": {"orient": "right", "values": [0, 0.1, 0.2, 0.3, 0.4, 0.5, 0.6, 0.7, 0.8, 0.9, 1, 1.1, 1.2, 1.3, 1.4, 1.5, 1.6, 1.7, 1.8, 1.9, 2, 2.1, 2.2, 2.3, 2.4, 2.5], "labels": false, "title": null, "minExtent": 0, "maxExtent": 0, "tickSize": {"condition": {"test": "abs(datum.value*2 - round(datum.value*2)) < 0.001", "value": -29}, "value": -14}}},
      "text": {"field": "txt"}}},
    {"data": {"name": "botsub"}, "mark": {"type": "text", "align": "left", "baseline": "middle", "fontSize": 18, "fontWeight": "bold", "color": "#ff0000"},
     "encoding": {
      "x": {"field": "lam", "type": "quantitative", "scale": {"domain": [20, 26], "nice": false, "zero": false}, "axis": null},
      "y": {"field": "v", "type": "quantitative", "scale": {"domain": [0, 2.5], "nice": false, "zero": false}, "axis": null},
      "text": {"field": "txt"}}}
   ]
  }
 ]
}
